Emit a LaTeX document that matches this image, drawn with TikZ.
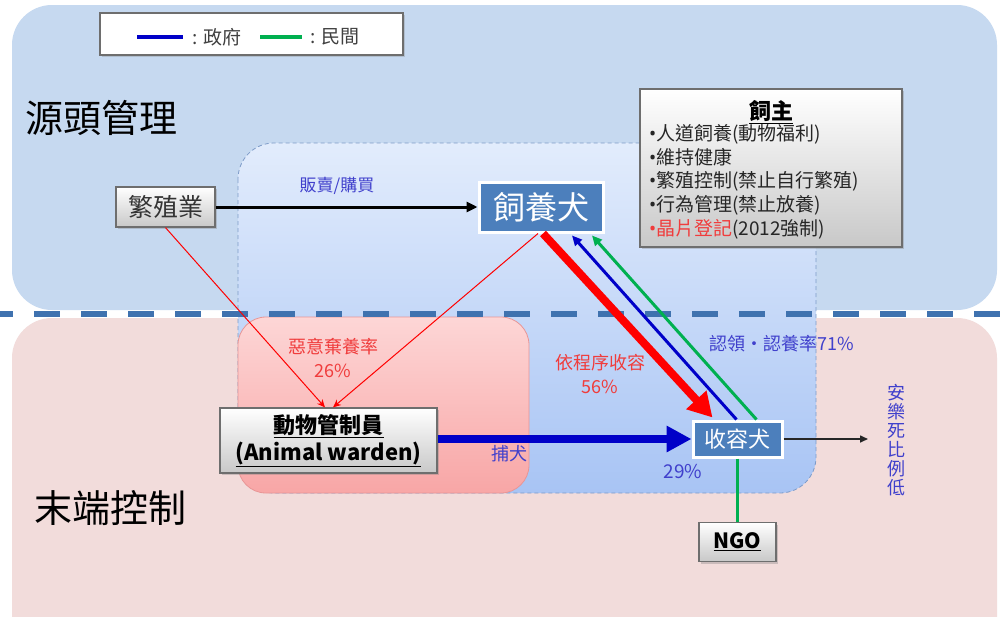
\documentclass[tikz,border=0pt]{standalone}
\usepackage{fontspec}
\setmainfont{Noto Sans CJK TC}
\newfontfamily\latinfont{Noto Sans}
\usetikzlibrary{arrows.meta,calc,shadows}
\definecolor{topblue}{RGB}{198,217,240}
\definecolor{botpink}{RGB}{242,220,219}
\definecolor{divblue}{RGB}{63,114,175}
\definecolor{innertop}{RGB}{226,236,252}
\definecolor{innerbot}{RGB}{168,196,244}
\definecolor{innerdash}{RGB}{125,155,200}
\definecolor{pinktop}{RGB}{253,214,214}
\definecolor{pinkbot}{RGB}{248,166,166}
\definecolor{pinkedge}{RGB}{232,150,150}
\definecolor{dogblue}{RGB}{76,127,188}
\definecolor{txtblue}{RGB}{64,64,204}
\definecolor{txtred}{RGB}{240,60,60}
\definecolor{govblue}{RGB}{0,0,200}
\definecolor{ngogreen}{RGB}{0,176,80}
\definecolor{boxgray}{RGB}{200,200,200}
\definecolor{edgegray}{RGB}{110,110,110}
\newcommand{\bul}{{\latinfont •}}
\tikzset{
  graybox/.style={draw=edgegray, line width=1.2pt, top color=white, bottom color=boxgray,
    drop shadow={shadow xshift=2pt, shadow yshift=-2pt, opacity=0.35}, inner sep=0pt},
  bluebox/.style={draw=white, line width=3pt, fill=dogblue, text=white, inner sep=0pt},
  bluetxt/.style={text=txtblue, font=\fontsize{19}{23}\selectfont, inner sep=0pt},
  redtxt/.style={text=txtred, font=\fontsize{19}{23}\selectfont, inner sep=0pt},
  bigtitle/.style={font=\fontsize{38}{44}\selectfont, inner sep=0pt},
  redthin/.style={draw=red, line width=1pt, -{Stealth[length=8pt,width=7pt]}},
  redthick/.style={draw=red, line width=8pt, -{Triangle[length=24pt,width=26pt]}},
  govthick/.style={draw=govblue, line width=8pt, -{Triangle[length=25pt,width=25pt]}},
  govthin/.style={draw=govblue, line width=3pt, -{Triangle[length=10pt,width=9pt]}},
  ngothin/.style={draw=ngogreen, line width=3pt, -{Triangle[length=10pt,width=9pt]}},
  ngoline/.style={draw=ngogreen, line width=3pt},
  blackthick/.style={draw=black, line width=3pt, -{Triangle[length=11pt,width=10pt]}},
  blackthin/.style={draw=black!85, line width=1.5pt, -{Triangle[length=8pt,width=7pt]}}
}
\begin{document}
\begin{tikzpicture}[x=1pt,y=-1pt]
\useasboundingbox (0,0) rectangle (1000,616);
\fill[white] (0,0) rectangle (1000,616);
\begin{scope}
\clip (0,0) rectangle (1000,616);
% regions
\fill[topblue, rounded corners=40pt] (12,5) rectangle (997,310);
\fill[botpink, rounded corners=40pt] (12,318) rectangle (997,660);
% inner regions
\draw[innerdash, line width=0.8pt, dash pattern=on 4pt off 3pt, top color=innertop, bottom color=innerbot, rounded corners=36pt] (238,143) rectangle (816,493);
\draw[pinkedge, line width=0.8pt, top color=pinktop, bottom color=pinkbot, rounded corners=28pt] (238,317) rectangle (529,493);
% divider
\draw[divblue, line width=6pt, dash pattern=on 26pt off 21pt, dash phase=13pt] (0,314) -- (1000,314);
\end{scope}

% legend
\node[draw=edgegray, line width=1.2pt, fill=white, minimum width=303pt, minimum height=42pt, inner sep=0pt,
  drop shadow={shadow xshift=1.5pt, shadow yshift=-1.5pt, opacity=0.3}] (legend) at (251.5,34) {};
\draw[govblue, line width=4pt] (137,37) -- (183,37);
\node[text=black!75, font=\fontsize{19}{23}\selectfont, anchor=west, inner sep=0pt] (leggov) at (192,37) {: 政府};
\draw[ngogreen, line width=4pt] (260,37) -- (302,37);
\node[text=black!75, font=\fontsize{19}{23}\selectfont, anchor=west, inner sep=0pt] (legngo) at (310,37) {: 民間};

% titles
\node[bigtitle] (src) at (101,118) {源頭管理};
\node[bigtitle] (end) at (110,508) {末端控制};

% owner box
\node[graybox, minimum width=262pt, minimum height=158pt] (owner) at (771,168) {};
\node[font=\fontsize{22}{26}\bfseries, inner sep=0pt] (ownertitle) at (771,112) {\underline{飼主}};
\node[anchor=north west, align=left, text=black!85, font=\fontsize{19}{23.8}\selectfont, inner sep=0pt] (owneritems) at (649,124)
 {\bul 人道飼養(動物福利)\\\bul 維持健康\\\bul 繁殖控制(禁止自行繁殖)\\\bul 行為管理(禁止放養)\\{\color{txtred}\bul 晶片登記}(2012強制)};

% main nodes
\node[graybox, minimum width=99pt, minimum height=40pt, font=\fontsize{25}{28}\selectfont, text=black!80] (breed) at (165.5,207) {繁殖業};
\node[bluebox, minimum width=124pt, minimum height=50pt, font=\fontsize{32}{36}\selectfont] (dog) at (541,207) {飼養犬};
\node[graybox, minimum width=217pt, minimum height=65pt, align=center, font=\fontsize{22}{26.5}\bfseries] (warden) at (328.5,440.5) {\underline{動物管制員}\\\underline{(Animal warden)}};
\node[bluebox, minimum width=89pt, minimum height=36pt, font=\fontsize{22}{26}\selectfont] (shou) at (737.5,439) {收容犬};
\node[graybox, minimum width=77pt, minimum height=39pt, font=\fontsize{21}{24}\bfseries] (ngo) at (737.5,542) {\underline{NGO}};
\coordinate (euthend) at (868,439);

% labels
\node[bluetxt, font=\fontsize{17}{20}\selectfont] (sell) at (337,186) {販賣/購買};
\node[redtxt, align=center, font=\fontsize{18}{23.5}\selectfont] (abandon) at (333,358) {惡意棄養率\\26\%};
\node[redtxt, align=center, font=\fontsize{18}{24.5}\selectfont] (proc) at (600,374) {依程序收容\\56\%};
\node[bluetxt, font=\fontsize{18}{22}\selectfont] (adopt) at (782,344) {認領・認養率71\%};
\node[bluetxt, font=\fontsize{18}{22}\selectfont] (catch) at (509,454) {捕犬};
\node[bluetxt] (pct29) at (683,472) {29\%};
\node[bluetxt, align=center, font=\fontsize{18}{19}\selectfont] (euth) at (896,440) {安\\樂\\死\\比\\例\\低};

% connectors
\draw[blackthick] (breed) -- (dog);
\draw[redthin] (breed.south) -- ($(warden.north)+(-3.5,0)$);
\draw[redthin] ($(dog.south)+(-3,0)$) -- ($(warden.north)+(4.5,0)$);
\draw[redthick] ($(dog.south)+(2,0)$) -- ($(shou.north west)+(21,-2)$);
\draw[govthin] ($(shou.north west)+(45,0)$) -- ($(dog.south)+(31,2)$);
\draw[ngothin] ($(shou.north west)+(65,0)$) -- ($(dog.south)+(51,2)$);
\draw[govthick] (warden.east |- shou.west) -- (shou.west);
\draw[blackthin] (shou.east) -- (euthend);
\draw[ngoline] (shou.south) -- (ngo.north);
\end{tikzpicture}
\end{document}
